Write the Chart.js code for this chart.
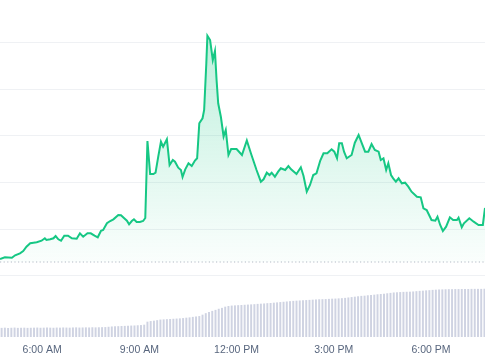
<!DOCTYPE html>
<html>
<head>
<meta charset="utf-8">
<script src="https://cdn.jsdelivr.net/npm/chart.js@4"></script>
<style>
html, body { margin: 0; padding: 0; background: #fff; }
#wrap { width: 485px; height: 360px; }
</style>
</head>
<body>
<div id="wrap"><canvas id="priceChart"></canvas></div>
<script>
// times are minutes since midnight
const priceTimes = [
	282, 291, 304, 310, 319, 325, 331, 338, 344, 350,
	359, 365, 368, 375, 381, 385, 390, 395, 401, 408,
	415, 424, 430, 436, 444, 450, 457, 463, 469, 473,
	480, 486, 492, 501, 506, 512, 517, 521, 526, 530,
	535, 541, 547, 551, 555, 560, 566, 570, 575, 580,
	584, 591, 596, 602, 606, 612, 617, 620, 625, 631,
	637, 643, 647, 651, 657, 660, 664, 666, 671, 676,
	680, 683, 686, 691, 696, 700, 705, 710, 720, 730,
	739, 747, 757, 765, 770, 776, 781, 785, 791, 797,
	802, 810, 816, 821, 831, 839, 844, 850, 856, 862,
	868, 875, 881, 888, 896, 901, 906, 910, 915, 919,
	924, 933, 939, 946, 952, 958, 964, 970, 976, 983,
	987, 992, 997, 1001, 1006, 1010, 1015, 1020, 1026, 1032,
	1038, 1044, 1054, 1061, 1066, 1072, 1081, 1088, 1092, 1097,
	1102, 1108, 1115, 1121, 1128, 1131, 1137, 1141, 1151, 1159,
	1168, 1176, 1180
];
const priceValues = [
	101, 102.7, 102.3, 104.7, 106.7, 109, 113.3, 116.7, 117.3, 117.7,
	119.3, 121.7, 120, 120.7, 121.7, 124, 120.7, 119.3, 124.3, 124.3,
	121.7, 121.3, 126.7, 123.3, 126.7, 126.7, 124.3, 122.7, 129.3, 130,
	136.7, 139, 140.7, 145, 144.7, 141.7, 139.3, 135.7, 139, 140.7,
	138, 138, 139, 142, 219, 186, 186, 187.3, 203.3, 218.3,
	213.3, 220.7, 195, 200, 198.3, 192.3, 190, 183, 190.7, 196.7,
	194, 199.5, 201.7, 236.7, 241.7, 250, 296.7, 324.3, 320, 300,
	309, 280, 256.7, 243, 223.5, 230, 205, 211, 211, 205,
	219.5, 206, 190, 178.3, 180.7, 187.3, 185, 187.3, 183.3, 188.3,
	191.7, 190, 194, 190.7, 186, 192.7, 184, 168.3, 175, 185,
	186.7, 199.5, 206.7, 206.7, 210.7, 208.3, 201.7, 216.7, 216.7, 208.3,
	201.7, 205, 217.3, 225, 216.7, 208.3, 208.3, 216, 210, 208.3,
	200, 201.7, 190, 196.7, 185, 181.7, 178.3, 181.7, 176.7, 177.3,
	173.3, 168.3, 163.3, 162.7, 151.7, 150, 140, 139.3, 143.3, 135,
	129, 133.3, 142.7, 140, 140, 142.3, 132.7, 136.7, 141.7, 138.3,
	135, 135, 152
];
// volume bars every 6 minutes from 4:45 AM
const volumeStart = 285;
const volumeStep = 6;
const volumeValues = [
	8.8, 9.0, 8.7, 8.9, 9.1, 8.8, 8.9, 9.0, 8.8, 8.9,
	9.0, 9.1, 8.9, 9.0, 9.2, 9.0, 8.9, 9.1, 9.0, 9.2,
	9.1, 9.0, 9.2, 9.3, 9.1, 9.2, 9.3, 9.2, 9.4, 9.3,
	9.4, 9.5, 9.6, 9.9, 10.2, 10.4, 10.5, 10.7, 10.8, 11.0,
	11.1, 11.2, 11.4, 11.6, 12.0, 15.0, 15.6, 16.0, 16.5, 17.1,
	17.3, 17.5, 17.7, 17.9, 18.1, 18.3, 18.6, 19.0, 19.3, 19.8,
	20.2, 20.6, 22.0, 23.5, 24.6, 25.8, 26.8, 27.9, 28.8, 30.0,
	30.7, 31.1, 31.3, 31.5, 31.7, 31.9, 32.1, 32.3, 32.5, 32.8,
	33.0, 33.2, 33.5, 33.7, 34.0, 34.3, 34.6, 34.9, 35.2, 35.5,
	35.8, 36.0, 36.2, 36.4, 36.6, 36.8, 37.0, 37.2, 37.4, 37.5,
	37.6, 37.8, 38.0, 38.1, 38.3, 38.5, 38.8, 39.2, 39.6, 40.0,
	40.4, 40.8, 41.0, 41.4, 41.7, 42.0, 42.4, 42.7, 43.0, 43.4,
	43.8, 44.2, 44.4, 44.6, 44.8, 44.9, 45.0, 45.2, 45.5, 45.8,
	46.0, 46.3, 46.5, 46.8, 47.0, 47.2, 47.3, 47.4, 47.5, 47.5,
	47.6, 47.6, 47.7, 47.7, 47.7, 47.8, 47.8, 47.8, 47.8, 47.8
];
const openPrice = 98;
const gridPrices = [84.5, 131, 177.5, 224, 270.5, 317];
const tickTimes = [360, 540, 720, 900, 1080];

function timeLabel(m) {
	const h = Math.floor(m / 60);
	const min = m % 60;
	const h12 = h % 12 === 0 ? 12 : h % 12;
	return h12 + ":" + String(min).padStart(2, "0") + (h < 12 ? " AM" : " PM");
}

const pricePoints = priceTimes.map((t, i) => ({ x: t, y: priceValues[i] }));
const volumePoints = volumeValues.map((v, i) => ({ x: volumeStart + i * volumeStep, y: v }));

const canvas = document.getElementById("priceChart").getContext("2d");

const priceChart = new Chart(canvas, {
	type: "line",
	data: {
		datasets: [
			{
				label: "Price",
				data: pricePoints,
				borderColor: "#16c784",
				borderWidth: 2,
				pointRadius: 0,
				tension: 0,
				fill: { value: openPrice },
				backgroundColor: (ctx) => {
					const chart = ctx.chart;
					const area = chart.chartArea;
					if (!area) return "transparent";
					const bottom = chart.scales.y.getPixelForValue(openPrice);
					const g = chart.ctx.createLinearGradient(0, area.top, 0, bottom);
					g.addColorStop(0, "rgba(22, 199, 132, 0.32)");
					g.addColorStop(1, "rgba(22, 199, 132, 0.02)");
					return g;
				},
				order: 0,
			},
			{
				label: "Open",
				data: [
					{ x: 282, y: openPrice },
					{ x: 1180, y: openPrice },
				],
				borderColor: "#b4bac6",
				borderWidth: 1,
				borderDash: [1.2, 2.4],
				pointRadius: 0,
				fill: false,
				order: 1,
			},
			{
				type: "bar",
				label: "Volume",
				data: volumePoints,
				yAxisID: "yv",
				backgroundColor: "#cfd3e2",
				barThickness: 1.3,
				order: 2,
			},
		],
	},
	options: {
		responsive: true,
		maintainAspectRatio: false,
		animation: false,
		layout: { padding: 0 },
		plugins: {
			legend: { display: false },
			tooltip: { enabled: false },
		},
		scales: {
			x: {
				type: "linear",
				min: 282,
				max: 1180,
				offset: false,
				grid: { display: false, offset: false, drawTicks: false },
				border: { display: false },
				afterBuildTicks: (scale) => {
					scale.ticks = tickTimes.map((v) => ({ value: v }));
				},
				afterFit: (scale) => {
					scale.height = 23;
				},
				ticks: {
					autoSkip: false,
					maxRotation: 0,
					padding: 7,
					color: "#58667e",
					font: { family: "'Liberation Sans', Arial, sans-serif", size: 10.5 },
					callback: (v) => timeLabel(v),
				},
			},
			y: {
				min: 23,
				max: 360,
				grid: { color: "#eff1f4", drawTicks: false },
				border: { display: false },
				ticks: { display: false },
				afterBuildTicks: (scale) => {
					scale.ticks = gridPrices.map((v) => ({ value: v }));
				},
			},
			yv: {
				display: false,
				min: 0,
				max: 337,
			},
		},
	},
});
</script>
</body>
</html>
